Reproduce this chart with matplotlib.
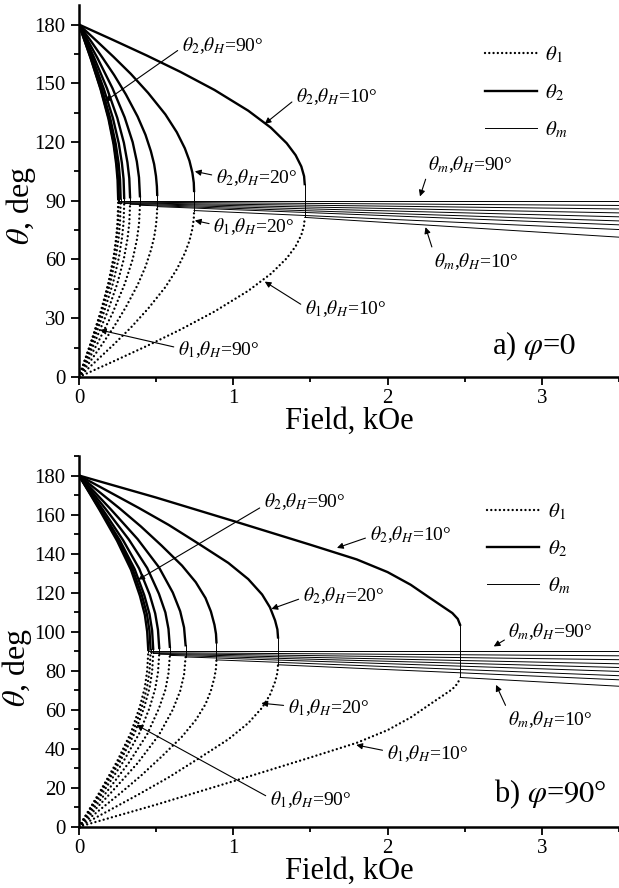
import matplotlib.pyplot as plt
from matplotlib.ticker import MultipleLocator
from matplotlib.lines import Line2D

plt.rcParams['font.family'] = ['Liberation Serif', 'DejaVu Serif']
plt.rcParams['mathtext.fontset'] = 'stix'

# углы поля theta_H, для каждого своя кривая
theta_H = [10, 20, 30, 40, 50, 60, 70, 80, 90]
H_max = 3.5

# ---- a) phi = 0 : поле (kOe), theta1, theta2 (deg) до критического поля
a_field = [
    [0, 0.219, 0.439, 0.658, 0.878, 1.097, 1.244, 1.346, 1.404, 1.441, 1.459, 1.463],
    [0, 0.112, 0.224, 0.336, 0.448, 0.560, 0.634, 0.686, 0.716, 0.735, 0.744, 0.746],
    [0, 0.076, 0.152, 0.228, 0.304, 0.380, 0.431, 0.466, 0.487, 0.499, 0.505, 0.507],
    [0, 0.119, 0.217, 0.296, 0.348, 0.375, 0.389, 0.395],
    [0, 0.099, 0.182, 0.248, 0.291, 0.314, 0.326, 0.331],
    [0, 0.088, 0.161, 0.220, 0.258, 0.278, 0.289, 0.293],
    [0, 0.081, 0.149, 0.203, 0.238, 0.257, 0.266, 0.270],
    [0, 0.077, 0.142, 0.194, 0.227, 0.245, 0.254, 0.258],
    [0, 0.076, 0.140, 0.191, 0.224, 0.241, 0.250, 0.254],
]
a_theta1 = [
    [0, 7.8, 15.8, 24.2, 33.4, 44.0, 52.7, 60.6, 66.7, 72.5, 77.5, 81.5],
    [0, 8.2, 16.5, 25.2, 34.9, 45.9, 55.0, 63.2, 69.6, 75.7, 80.8, 85.0],
    [0, 8.3, 16.9, 25.8, 35.7, 47.0, 56.3, 64.7, 71.3, 77.4, 82.7, 87.0],
    [0, 17.0, 32.5, 47.4, 60.1, 70.0, 78.1, 87.7],
    [0, 17.1, 32.7, 47.6, 60.4, 70.4, 78.5, 88.2],
    [0, 17.2, 32.9, 47.8, 60.7, 70.7, 78.9, 88.6],
    [0, 17.2, 33.0, 48.0, 60.9, 70.9, 79.1, 88.9],
    [0, 17.3, 33.1, 48.1, 61.0, 71.1, 79.3, 89.1],
    [0, 17.3, 33.1, 48.2, 61.1, 71.2, 79.4, 89.2],
]
a_theta2 = [
    [180, 172.2, 164.2, 155.8, 146.6, 136.0, 127.3, 119.4, 113.3, 107.5, 102.5, 98.5],
    [180, 171.8, 163.5, 154.8, 145.1, 134.1, 125.0, 116.8, 110.4, 104.3, 99.2, 95.0],
    [180, 171.7, 163.1, 154.2, 144.3, 133.0, 123.7, 115.3, 108.7, 102.6, 97.3, 93.0],
    [180, 163.0, 147.5, 132.6, 119.9, 110.0, 101.9, 92.3],
    [180, 162.9, 147.3, 132.4, 119.6, 109.6, 101.5, 91.8],
    [180, 162.8, 147.1, 132.2, 119.3, 109.3, 101.1, 91.4],
    [180, 162.8, 147.0, 132.0, 119.1, 109.1, 100.9, 91.1],
    [180, 162.7, 146.9, 131.9, 119.0, 108.9, 100.7, 90.9],
    [180, 162.7, 146.9, 131.8, 118.9, 108.8, 100.6, 90.8],
]
# theta_m: значение в критическом поле и при H = 3.5 kOe
a_thm_start = [81.5, 85.0, 87.0, 87.7, 88.2, 88.6, 88.9, 89.3, 90.0]
a_thm_end = [71.4, 75.3, 77.7, 79.7, 81.8, 83.8, 85.8, 87.6, 90.0]

# ---- b) phi = 90
b_field = [
    [0, 0.5, 1.0, 1.5, 1.8, 2.0, 2.15, 2.27, 2.36, 2.42, 2.455, 2.47],
    [0, 0.194, 0.387, 0.581, 0.774, 0.968, 1.097, 1.187, 1.238, 1.271, 1.286, 1.290],
    [0, 0.134, 0.267, 0.401, 0.535, 0.668, 0.757, 0.820, 0.855, 0.878, 0.888, 0.891],
    [0, 0.207, 0.380, 0.518, 0.608, 0.656, 0.681, 0.691],
    [0, 0.177, 0.324, 0.442, 0.518, 0.560, 0.580, 0.589],
    [0, 0.156, 0.286, 0.390, 0.458, 0.494, 0.512, 0.520],
    [0, 0.144, 0.265, 0.361, 0.423, 0.457, 0.474, 0.481],
    [0, 0.139, 0.255, 0.348, 0.408, 0.441, 0.457, 0.464],
    [0, 0.135, 0.247, 0.337, 0.395, 0.427, 0.442, 0.449],
]
b_theta1 = [
    [0, 11.3, 23.3, 35.5, 43.0, 49.5, 56.0, 62.5, 67.3, 70.5, 73.5, 76.5],
    [0, 8.3, 16.6, 25.3, 34.9, 44.8, 53.1, 61.0, 67.6, 74.3, 78.9, 83.0],
    [0, 8.6, 17.1, 26.1, 35.9, 46.2, 54.7, 62.8, 69.7, 76.5, 81.2, 85.5],
    [0, 17.4, 32.6, 47.0, 60.0, 69.6, 77.9, 87.0],
    [0, 17.6, 32.9, 47.4, 60.6, 70.2, 78.6, 87.8],
    [0, 17.7, 33.2, 47.7, 61.0, 70.7, 79.1, 88.4],
    [0, 17.8, 33.3, 48.0, 61.3, 71.0, 79.5, 88.8],
    [0, 17.8, 33.4, 48.1, 61.5, 71.3, 79.7, 89.1],
    [0, 17.9, 33.5, 48.3, 61.7, 71.5, 80.0, 89.4],
]
b_theta2 = [
    [180, 168.7, 156.7, 144.5, 137.0, 130.5, 124.0, 117.5, 112.7, 109.5, 106.5, 103.5],
    [180, 171.7, 163.4, 154.7, 145.1, 135.2, 126.9, 119.0, 112.4, 105.7, 101.1, 97.0],
    [180, 171.4, 162.9, 153.9, 144.1, 133.8, 125.3, 117.2, 110.3, 103.5, 98.8, 94.5],
    [180, 162.6, 147.4, 133.0, 120.0, 110.4, 102.1, 93.0],
    [180, 162.4, 147.1, 132.6, 119.4, 109.8, 101.4, 92.2],
    [180, 162.3, 146.8, 132.3, 119.0, 109.3, 100.9, 91.6],
    [180, 162.2, 146.7, 132.0, 118.7, 109.0, 100.5, 91.2],
    [180, 162.2, 146.6, 131.9, 118.5, 108.7, 100.3, 90.9],
    [180, 162.1, 146.5, 131.7, 118.3, 108.5, 100.0, 90.6],
]
b_thm_start = [76.5, 83.0, 85.5, 87.0, 87.8, 88.4, 88.8, 89.2, 90.0]
b_thm_end = [72.0, 75.3, 77.4, 79.6, 81.6, 83.5, 85.6, 87.6, 90.0]

DOT = (0, (0.01, 1.8))
T1 = r'$\theta_{\mathit{1}}$'
T2 = r'$\theta_{\mathit{2}}$'
TM = r'$\theta_{m}$'
TH = r'$\theta_{H}$'


def lab(t, deg):
    return t + ',' + TH + '=%d°' % deg


def draw_panel(ax, field, th1, th2, m0, m1):
    for H, t1, t2, s, e in zip(field, th1, th2, m0, m1):
        ax.plot(H, t1, color='k', lw=1.7, ls=DOT, dash_capstyle='round', zorder=2)
        ax.plot(H, t2, color='k', lw=1.7, zorder=4)
        ax.plot([H[-1], H[-1]], [t1[-1], t2[-1]], color='k', lw=0.7, zorder=3)
        ax.plot([H[-1], H_max], [s, e], color='k', lw=0.7, zorder=3)


def style_axes(ax, ymaj, ymin, ylab_xy):
    ax.set_xlim(0, H_max)
    ax.set_ylim(0, 190)
    for s in ['top', 'right']:
        ax.spines[s].set_visible(False)
    for s in ['left', 'bottom']:
        ax.spines[s].set_linewidth(1.8)
    ax.xaxis.set_major_locator(MultipleLocator(1))
    ax.xaxis.set_minor_locator(MultipleLocator(0.5))
    ax.yaxis.set_major_locator(MultipleLocator(ymaj))
    ax.yaxis.set_minor_locator(MultipleLocator(ymin))
    ax.tick_params(which='major', direction='out', length=6, width=1.3, labelsize=15)
    ax.tick_params(which='minor', direction='out', length=3.5, width=1.3)
    ax.tick_params(axis='x', pad=3)
    ax.set_xlabel('Field, kOe', fontsize=22, labelpad=-1)
    ax.set_ylabel(r'$\theta$, deg', fontsize=23)
    ax.yaxis.set_label_coords(*ylab_xy)
    handles = [Line2D([], [], color='k', lw=1.7, ls=DOT, dash_capstyle='round'),
               Line2D([], [], color='k', lw=1.7),
               Line2D([], [], color='k', lw=0.7)]
    return handles


def annotate(ax, items):
    for text, tip, pos, rel in items:
        ax.annotate(text, xy=tip, xytext=pos, fontsize=14, ha='left', va='center',
                    arrowprops=dict(arrowstyle='-|>', color='k', lw=0.8,
                                    mutation_scale=9, shrinkA=1, shrinkB=0,
                                    relpos=rel))


fig = plt.figure(figsize=(6.19, 8.88), dpi=100)
ax1 = fig.add_axes([0.1276, 0.5755, 0.8724, 0.4189])
ax2 = fig.add_axes([0.1276, 0.0690, 0.8724, 0.4175])

# ---- панель a
draw_panel(ax1, a_field, a_theta1, a_theta2, a_thm_start, a_thm_end)
h = style_axes(ax1, 30, 15, (-0.075, 0.46))
ax1.legend(h, [T1, T2, TM], loc='upper left', bbox_to_anchor=(0.752, 0.893),
           frameon=False, fontsize=15, handlelength=2.5, handletextpad=0.4,
           labelspacing=0.8, borderpad=0, borderaxespad=0)
annotate(ax1, [
    (lab(T2, 90), (0.168, 140.7), (0.665, 169.2), (0, 0.4)),
    (lab(T2, 10), (1.204, 129.3), (1.405, 143.1), (0, 0.4)),
    (lab(T2, 20), (0.751, 105.0), (0.887, 101.7), (0, 0.6)),
    (lab(T1, 20), (0.751, 79.9), (0.870, 76.8), (0, 0.6)),
    (lab(T1, 10), (1.204, 48.7), (1.463, 34.8), (0, 0.6)),
    (lab(T1, 90), (0.136, 24.0), (0.641, 13.8), (0, 0.6)),
    (lab(TM, 90), (2.210, 92.2), (2.260, 108.4), (0, 0.1)),
    (lab(TM, 10), (2.246, 76.5), (2.300, 59.0), (0, 0.9)),
])
ax1.text(2.68, 11.8, r'a) $\varphi$=$\mathit{0}$', fontsize=22, va='baseline')

# ---- панель b
draw_panel(ax2, b_field, b_theta1, b_theta2, b_thm_start, b_thm_end)
h = style_axes(ax2, 20, 10, (-0.083, 0.43))
ax2.legend(h, [T1, T2, TM], loc='upper left', bbox_to_anchor=(0.756, 0.878),
           frameon=False, fontsize=15, handlelength=2.5, handletextpad=0.4,
           labelspacing=0.8, borderpad=0, borderaxespad=0)
annotate(ax2, [
    (lab(T2, 90), (0.384, 126.6), (1.197, 166.7), (0, 0.3)),
    (lab(T2, 10), (1.672, 142.9), (1.883, 149.7), (0, 0.4)),
    (lab(T2, 20), (1.247, 111.6), (1.450, 118.4), (0, 0.4)),
    (lab(T1, 20), (1.182, 63.3), (1.353, 60.9), (0, 0.6)),
    (lab(T1, 10), (1.797, 41.9), (1.994, 37.7), (0, 0.6)),
    (lab(T1, 90), (0.373, 52.2), (1.236, 13.7), (0, 0.6)),
    (lab(TM, 90), (2.688, 92.4), (2.783, 100.1), (0, 0.2)),
    (lab(TM, 10), (2.703, 72.7), (2.783, 54.8), (0, 0.9)),
])
ax2.text(2.69, 12.8, r'b) $\varphi$=$\mathit{90}$°', fontsize=22, va='baseline')

fig.savefig('out.png', dpi=100)
